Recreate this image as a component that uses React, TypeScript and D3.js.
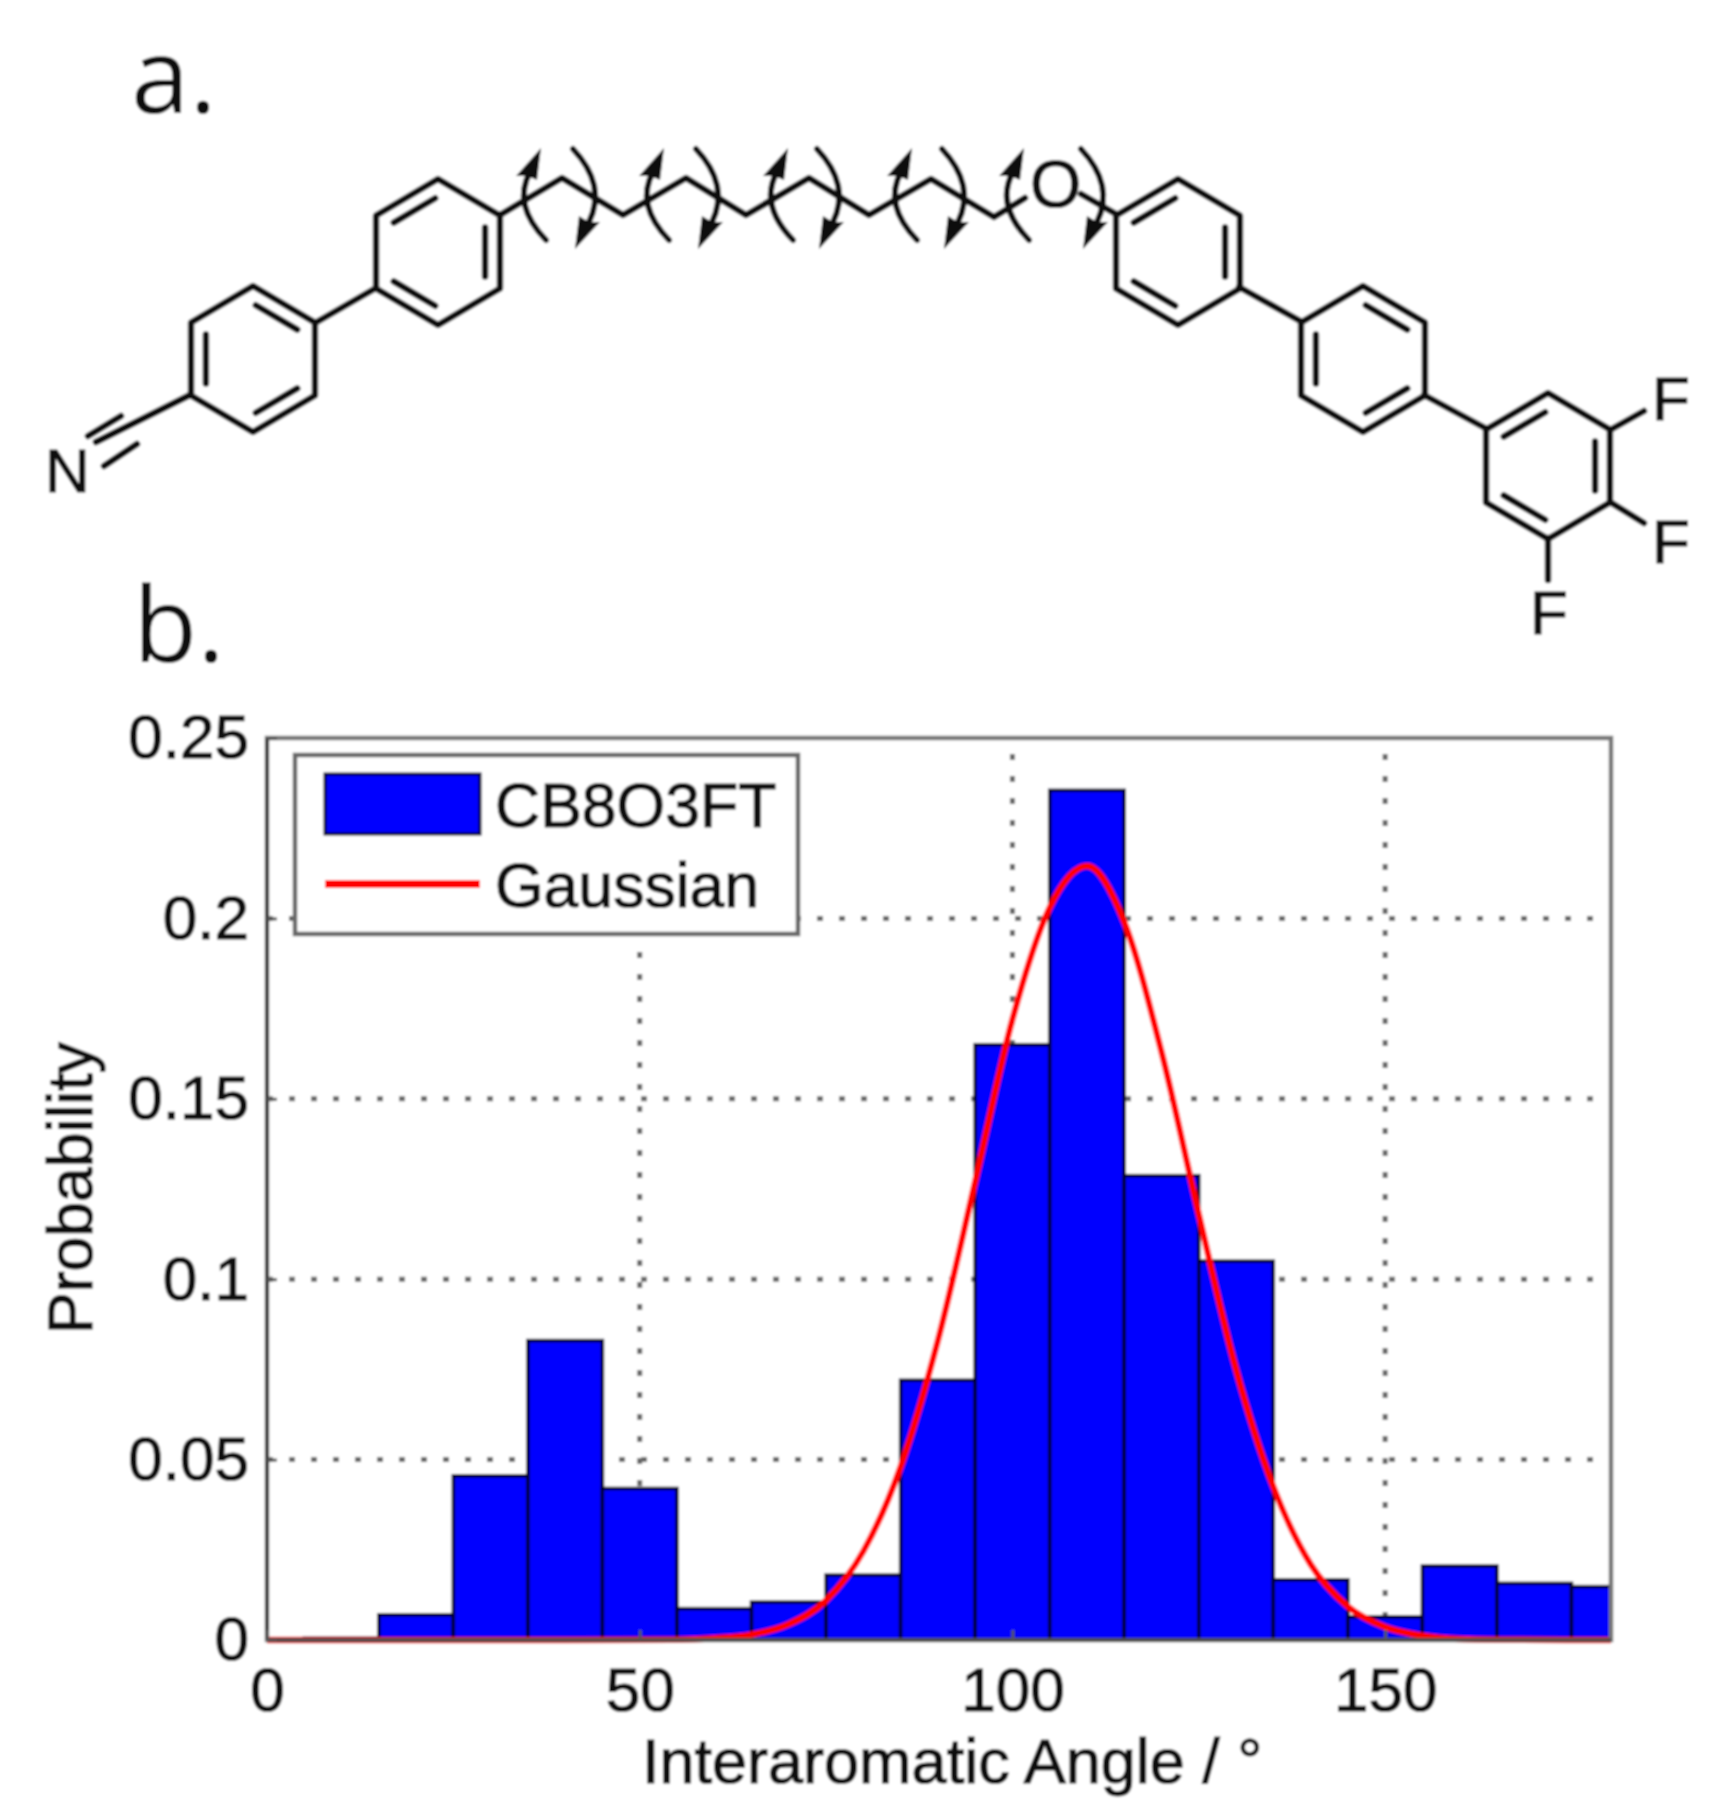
import * as d3 from "d3";
import { useEffect, useRef } from "react";

const WIDTH = 1715;
const HEIGHT = 1816;
const X_MAX = 180.3;

// histogram
const binCenters = [10, 20, 30, 40, 50, 60, 70, 80, 90, 100, 110, 120, 130, 140, 150, 160, 170, 180];
const binValues = [0.0005, 0.007, 0.0455, 0.083, 0.042, 0.0087, 0.0105, 0.018, 0.072, 0.165, 0.2355, 0.1287, 0.105, 0.0167, 0.0064, 0.0205, 0.0157, 0.0148];

// red curve
const curveX = [0, 20, 40, 55, 60, 65, 70, 75, 80, 85, 90, 95, 100, 105, 110, 115, 120, 125, 130, 135, 140, 145, 150, 155, 160, 165, 180.3];
const curveY = [0, 0, 0, 0.0001, 0.0005, 0.0015, 0.0044, 0.011, 0.0246, 0.048, 0.083, 0.127, 0.172, 0.203, 0.2145, 0.199, 0.163, 0.118, 0.075, 0.0425, 0.021, 0.0093, 0.0036, 0.0012, 0.0003, 0.0001, 0];

const xTicks = [0, 50, 100, 150];
const yTicks = [0, 0.05, 0.1, 0.15, 0.2, 0.25];

const legendLabels = ["CB8O3FT", "Gaussian"];

// structure of the molecule (pixel layout of the drawing, not chart data)
const ringCenters: [number, number, number][] = [
  [253, 359, 0],
  [438, 252, 1],
  [1178, 252, 1],
  [1363, 359, 0],
  [1548, 466, 1],
];
const singleBonds = [
  [315, 323, 376, 288],
  [1239, 287, 1302, 322],
  [1424, 395, 1487, 429],
  [1610, 430, 1644, 411],
  [1610, 502, 1644, 523],
  [1548, 538, 1548, 580],
  [190, 395, 96, 442],
  [88, 436, 121, 416],
  [104, 466, 137, 444],
  [1081, 194, 1116, 214],
];
const chainX = [500, 562, 623, 686, 746, 809, 869, 931, 994, 1025];
const chainY = [215, 178, 215, 178, 215, 178, 215, 179, 217, 198];
const leftParens = [524, 647, 771, 895, 1007];
const rightParens = [595, 718, 839, 964, 1103];
const atoms: [string, number, number, number][] = [
  ["N", 45, 492, 62],
  ["F", 1652, 420, 62],
  ["F", 1652, 563, 62],
  ["F", 1530, 634, 62],
  ["O", 1030, 207, 66],
];

export default function App() {
  const ref = useRef<SVGSVGElement | null>(null);

  useEffect(() => {
    d3.select(ref.current).selectAll("*").remove();

    const svg = d3.select(ref.current);
    const defs = svg.append("defs");
    defs.append("filter").attr("id", "soft").append("feGaussianBlur").attr("stdDeviation", 0.9);

    const root = svg.append("g").attr("filter", "url(#soft)");
    root.append("rect").attr("width", WIDTH).attr("height", HEIGHT).attr("fill", "#fff");

    const font = "'Liberation Sans', Arial, sans-serif";
    const ink = "#111";
    const x = d3.scaleLinear().domain([0, X_MAX]).range([267, 1611]);
    const y = d3.scaleLinear().domain([0, 0.25]).range([1640, 738]);

    const label = (t: string, tx: number, ty: number, size: number) =>
      root
        .append("text")
        .attr("x", tx)
        .attr("y", ty)
        .attr("font-family", font)
        .attr("font-size", size)
        .attr("fill", ink)
        .attr("stroke", ink)
        .attr("stroke-width", 1.2)
        .text(t);

    // panel letters
    root.append("text").attr("x", 131).attr("y", 113).attr("font-family", "'Open Sans', sans-serif").attr("font-size", 105).attr("fill", ink).text("a.");
    root.append("text").attr("x", 133).attr("y", 662).attr("font-family", "'Open Sans', sans-serif").attr("font-size", 105).attr("fill", ink).text("b.");

    // molecule
    const mol = root.append("g").attr("fill", "none").attr("stroke", ink).attr("stroke-width", 6.5).attr("stroke-linejoin", "round").attr("stroke-linecap", "round");
    const R = 73;
    ringCenters.forEach(([cx, cy, kind]) => {
      const pts = d3.range(6).map((i) => {
        const a = -Math.PI / 2 + (i * Math.PI) / 3;
        return [cx + R * Math.cos(a) * 0.98, cy + R * Math.sin(a)] as [number, number];
      });
      mol.append("path").attr("d", d3.line()(pts) + "Z");
      // inner double bonds on alternating edges
      d3.range(3).forEach((k) => {
        const i = kind === 0 ? k * 2 : k * 2 + 1;
        const p = pts[i];
        const q = pts[(i + 1) % 6];
        const inset = (v: [number, number], t: number) => [cx + (v[0] - cx) * t, cy + (v[1] - cy) * t];
        const a = inset(p, 0.76);
        const b = inset(q, 0.76);
        const ax = a[0] + (b[0] - a[0]) * 0.06;
        const ay = a[1] + (b[1] - a[1]) * 0.06;
        const bx = b[0] - (b[0] - a[0]) * 0.06;
        const by = b[1] - (b[1] - a[1]) * 0.06;
        mol.append("line").attr("x1", ax).attr("y1", ay).attr("x2", bx).attr("y2", by);
      });
    });
    singleBonds.forEach(([x1, y1, x2, y2]) => {
      mol.append("line").attr("x1", x1).attr("y1", y1).attr("x2", x2).attr("y2", y2);
    });
    mol.append("path").attr("d", d3.line()(chainX.map((v, i) => [v, chainY[i]] as [number, number])));

    leftParens.forEach((px) => {
      mol.append("path").attr("d", `M${px + 6},172 Q${px - 12},205 ${px + 22},240`).attr("stroke-width", 6);
      mol.append("path").attr("d", `M${px + 17},148 L${px - 8},176 L${px + 3},176 L${px + 13},180 Z`).attr("fill", ink).attr("stroke", "none");
    });
    rightParens.forEach((px) => {
      mol.append("path").attr("d", `M${px - 22},149 Q${px + 12},185 ${px - 6},222`).attr("stroke-width", 6);
      mol.append("path").attr("d", `M${px - 20},249 L${px + 5},222 L${px - 6},222 L${px - 16},216 Z`).attr("fill", ink).attr("stroke", "none");
    });

    atoms.forEach(([t, ax, ay, size]) => {
      label(t, ax, ay, size);
    });

    // grid
    const grid = root.append("g").attr("stroke", "#666").attr("stroke-width", 5).attr("stroke-dasharray", "6 16");
    xTicks.slice(1).forEach((t) => {
      grid.append("line").attr("x1", x(t)).attr("x2", x(t)).attr("y1", y(0)).attr("y2", y(0.25));
    });
    yTicks.slice(1, -1).forEach((t) => {
      grid.append("line").attr("x1", x(0)).attr("x2", x(X_MAX)).attr("y1", y(t)).attr("y2", y(t));
    });

    // bars, last one cut by the axis limit
    root
      .append("g")
      .selectAll("rect")
      .data(binCenters)
      .enter()
      .append("rect")
      .attr("x", (d) => x(d - 5))
      .attr("width", (d) => x(Math.min(d + 5, X_MAX)) - x(d - 5))
      .attr("y", (_, i) => y(binValues[i]))
      .attr("height", (_, i) => y(0) - y(binValues[i]))
      .attr("fill", "#0000ff")
      .attr("stroke", "#00002a")
      .attr("stroke-width", 3.5);

    // gaussian
    const line = d3
      .line<number>()
      .x((d) => x(d))
      .y((_, i) => y(curveY[i]))
      .curve(d3.curveMonotoneX);
    root.append("path").attr("d", line(curveX)).attr("fill", "none").attr("stroke", "#ff0000").attr("stroke-width", 6.5);

    // frame
    root.append("rect").attr("x", x(0)).attr("y", y(0.25)).attr("width", x(X_MAX) - x(0)).attr("height", y(0) - y(0.25)).attr("fill", "none").attr("stroke", "#777").attr("stroke-width", 4.5);
    root.append("line").attr("x1", x(0)).attr("x2", x(0)).attr("y1", y(0)).attr("y2", y(0.25)).attr("stroke", "#333").attr("stroke-width", 3.5);
    root.append("line").attr("x1", x(0)).attr("x2", x(X_MAX)).attr("y1", y(0)).attr("y2", y(0)).attr("stroke", "#333").attr("stroke-width", 4).attr("stroke-opacity", 0.6);

    // axes
    const xAxis = root
      .append("g")
      .attr("transform", `translate(0,${y(0)})`)
      .call(d3.axisBottom(x).tickValues(xTicks).tickFormat(d3.format("~g") as any).tickSizeInner(-10).tickSizeOuter(0).tickPadding(27));
    const yAxis = root
      .append("g")
      .attr("transform", `translate(${x(0)},0)`)
      .call(d3.axisLeft(y).tickValues(yTicks).tickFormat(d3.format("~g") as any).tickSizeInner(-10).tickSizeOuter(0).tickPadding(18));
    [xAxis, yAxis].forEach((a) => {
      a.select(".domain").remove();
      a.selectAll("line").attr("stroke", "#555").attr("stroke-width", 3);
      a.selectAll("text").attr("font-family", font).attr("font-size", 62).attr("fill", ink).attr("stroke", ink).attr("stroke-width", 1.2);
    });

    label("Interaromatic Angle / °", 642, 1783, 63);
    root
      .append("text")
      .attr("transform", "translate(92,1334) rotate(-90)")
      .attr("font-family", font)
      .attr("font-size", 62.5)
      .attr("fill", ink)
      .attr("stroke", ink)
      .attr("stroke-width", 1.2)
      .text("Probability");

    // legend
    root.append("rect").attr("x", 295).attr("y", 755).attr("width", 503).attr("height", 179).attr("fill", "#fff").attr("stroke", "#666").attr("stroke-width", 4.5);
    root.append("rect").attr("x", 325).attr("y", 774).attr("width", 155).attr("height", 60).attr("fill", "#0000ff").attr("stroke", "#00002a").attr("stroke-width", 3);
    root.append("line").attr("x1", 325).attr("x2", 480).attr("y1", 884).attr("y2", 884).attr("stroke", "#ff0000").attr("stroke-width", 8);
    legendLabels.forEach((t, i) => {
      label(t, 495, i === 0 ? 827 : 907, 62.5);
    });
  }, []);

  return <svg ref={ref} width={WIDTH} height={HEIGHT} style={{ position: "absolute", left: 0, top: 0, display: "block" }}></svg>;
}
